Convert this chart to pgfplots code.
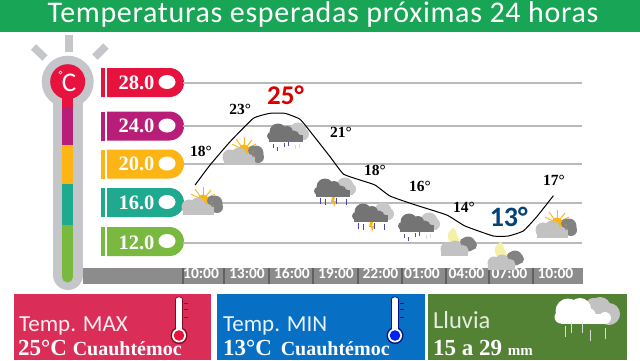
\documentclass[border=0pt]{standalone}
\usepackage{fontspec}
\usepackage{pgfplots}
\pgfplotsset{compat=1.18}
\setmainfont{Carlito}
\newfontfamily\sfb{Liberation Serif}
\newfontfamily\titlef{Carlito}[LetterSpace=2.3]
\newcommand{\fs}[1]{\fontsize{#1}{#1}\selectfont}
\definecolor{band}{HTML}{18A555}
\definecolor{cred}{HTML}{E8123F}
\definecolor{cpur}{HTML}{B81E78}
\definecolor{cyel}{HTML}{FDB515}
\definecolor{ctea}{HTML}{1FA98E}
\definecolor{cgrn}{HTML}{7AB93F}
\definecolor{tube}{HTML}{C4C6CA}
\definecolor{pmax}{HTML}{DA2E58}
\definecolor{pmin}{HTML}{0770C4}
\definecolor{prain}{HTML}{548235}
\definecolor{lcl}{HTML}{C2C2C2}
\definecolor{dcl}{HTML}{747474}
\definecolor{moonc}{HTML}{F4F1A6}
\newcommand{\pill}[2]{% y centre, colour
  \fill[#2] (101,#1-14.5) rectangle (104.5,#1+14.5);
  \fill[#2] (107,#1-14.5) -- (169.5,#1-14.5) arc[start angle=90,end angle=-90,radius=14.5pt] -- (107,#1+14.5) -- cycle;
  \fill[white] (167,#1-0.5) ellipse[x radius=8.5pt,y radius=7pt];
}
\newcommand{\sunicon}[2]{\begin{scope}[shift={(#1,#2)}]
  \foreach \a/\b in {13/2,21/0,29/3,9/7,33/7}{\draw[cyel,line width=0.9pt] (21,13)--(\a,\b);}
  \fill[cyel] (21,13) circle (5.6);
  \fill[dcl!90] (33,16) circle (7.5);\fill[dcl!90] (30,13.5) circle (5);\fill[dcl!90] (35,20) circle (6);
  \fill[lcl] (7,20) circle (7.5);\fill[lcl] (16,18) circle (7.5);\fill[lcl] (25,22) circle (5.5);
  \fill[lcl] (1,20) rectangle (32,28);
  \fill[cyel] (30,15) circle (0.7);\fill[cyel] (31,19) circle (0.7);
\end{scope}}
\newcommand{\rainbase}{
  \fill[lcl!90] (30,8) circle (8.5);\fill[lcl!90] (35,11) circle (6);\fill[lcl!90] (22,10) circle (6);\fill[lcl!90] (24,12) rectangle (38,17);
  \fill[dcl] (10,9) circle (8.5);\fill[dcl] (19,9) circle (6);\fill[dcl] (26,13) circle (5.5);\fill[dcl] (31,15) circle (3.7);\fill[dcl] (3,13) circle (4);\fill[dcl] (0.5,12) rectangle (35,18.5);
}
\newcommand{\rainicon}[2]{\begin{scope}[shift={(#1,#2)}]\rainbase
  \foreach \x/\y in {5/25,9/28,16/24,20/23}{\draw[dcl!70!blue,line width=0.8pt] (\x,\y-4)--(\x,\y);}
  \foreach \x/\y in {27/26,31/25}{\draw[lcl!60,line width=0.8pt] (\x,\y-4)--(\x,\y);}
\end{scope}}
\newcommand{\stormicon}[2]{\begin{scope}[shift={(#1,#2)}]\rainbase
  \foreach \x/\y in {5/26,10/27,21/26,31/27}{\draw[dcl!60!blue,line width=0.8pt] (\x,\y-6)--(\x,\y);}
  \fill[cyel] (17,19) -- (20,19) -- (19,23) -- (21,23) -- (19,29) -- (18,24) -- (16,24) -- cycle;
\end{scope}}
\newcommand{\moonicon}[2]{\begin{scope}[shift={(#1,#2)}]
  \fill[moonc,draw=none] plot[smooth cycle] coordinates {(14,0) (8,6) (9,13) (15,18) (27,19) (31,17) (22,14) (18,9)};
  \fill[dcl!90] (28,16) circle (7.5);\fill[dcl!90] (32,17) circle (5);\fill[dcl!90] (24,14) circle (4);
  \fill[lcl] (7,21) circle (6.5);\fill[lcl] (15,19.5) circle (7);\fill[lcl] (23,22.5) circle (5.5);\fill[lcl] (1,22) rectangle (28,28);
\end{scope}}
\newcommand{\thermo}[2]{% x, bulb colour
  \draw[#2!55!black,line width=0.8pt,fill=white,rounded corners=2.5pt] (#1-3.5,328) -- (#1-3.5,297) -- (#1+3.5,297) -- (#1+3.5,328);
  \fill[#2!55!black] (#1,335.5) circle (8.5);
  \fill[white] (#1-3,326) rectangle (#1+3,332);
  \fill[white] (#1,335.5) circle (7);
  \fill[#2] (#1,335.5) circle (5.3);
  \foreach \y in {303,309,317}{\draw[#2!55!black,line width=0.6pt] (#1+5,\y)--(#1+9,\y);}
}
\begin{document}
\begin{tikzpicture}
\begin{scope}[x=1pt,y=-1pt]
\useasboundingbox (0,0) rectangle (640,360);
\fill[white] (0,0) rectangle (640,360);
% title band
\fill[band] (0,0) rectangle (640,32);
\node[text=white,anchor=center] at (323,14) {\fs{30}\titlef Temperaturas esperadas próximas 24 horas};
% thermometer
\fill[tube] (53,80) rectangle (83,275);
\fill[tube] (68,275) circle (15);
\fill[tube] (67.7,81.7) circle (26);
\fill[tube] (65,35) rectangle (73,52);
\draw[tube,line width=7.5pt] (33.5,47)--(45,58);
\draw[tube,line width=7.5pt] (106,46)--(95,57);
\fill[cred] (67.7,81.7) circle (17.5);
\fill[cgrn] (62,225) rectangle (73,277);
\fill[cgrn] (67.5,277) circle (5.5);
\fill[ctea] (62,183.5) rectangle (73,225);
\fill[cyel] (62,145) rectangle (73,183.5);
\fill[cpur] (62,107) rectangle (73,145);
\fill[cred] (62,90) rectangle (73,107);
\node[text=white,inner sep=0pt] at (69,83) {\fs{27}C};
\fill[white] (60.5,72.5) circle (1.8);
\fill[cred] (60.5,72.5) circle (0.8);
% pills
\pill{82.5}{cred}
\pill{126}{cpur}
\pill{164}{cyel}
\pill{202.5}{ctea}
\pill{241.5}{cgrn}
% axis strip
\fill[black!45] (83,268) rectangle (583,284);
\foreach \x in {224,269,313,358,402,446,489,533}{\fill[black!62] (\x-1.2,268) rectangle (\x+1.2,284);}
\fill[black!62] (182,268) rectangle (184,284);
\end{scope}
\begin{axis}[
  at={(183pt,-284pt)},anchor=south west,
  scale only axis,width=399pt,height=214pt,
  xmin=-1.214,xmax=25.69,ymin=7.9,ymax=29.3,
  clip=false,
  axis line style={draw=none},
  tick style={draw=none},
  xtick={0,3.1,6.13,9.1,12.1,14.9,17.9,20.8,23.9},
  xticklabels={10:00,13:00,16:00,19:00,22:00,01:00,04:00,07:00,10:00},
  xticklabel style={text=white,font=\fs{15.5}\bfseries,yshift=19.5pt},
  ytick={12,16,19.9,23.7,28},
  yticklabels={12.0,16.0,20.0,24.0,28.0},
  yticklabel style={text=white,font=\fs{20.5}\sfb\bfseries,xshift=-25pt},
  ymajorgrids,
  grid style={black!27,line width=1.3pt},
  /pgf/number format/assume math mode=true,
]
\addplot[black,line width=1pt,smooth,tension=0.25,mark=none] coordinates {
(-0.40,17.8)(0.61,19.8)(1.96,22.13)(3.53,24.47)(4.65,24.97)(5.66,24.97)(6.68,24.37)(7.55,22.8)(8.70,20.63)(9.60,18.9)(10.72,18.3)(11.73,17.8)(12.74,16.7)(14.32,15.87)(16.57,14.8)(17.80,13.7)(19.71,12.7)(20.72,12.7)(21.73,13.2)(22.64,14.63)(23.76,16.73)};
\node[font=\fs{15.5}\sfb\bfseries] at (axis cs:0,21.2) {18°};
\node[font=\fs{15.5}\sfb\bfseries] at (axis cs:2.65,25.4) {23°};
\node[font=\fs{15.5}\sfb\bfseries] at (axis cs:9.44,23.1) {21°};
\node[font=\fs{15.5}\sfb\bfseries] at (axis cs:11.73,19.3) {18°};
\node[font=\fs{15.5}\sfb\bfseries] at (axis cs:14.77,17.7) {16°};
\node[font=\fs{15.5}\sfb\bfseries] at (axis cs:17.73,15.6) {14°};
\node[font=\fs{15.5}\sfb\bfseries] at (axis cs:23.8,18.3) {17°};
\node[font=\fs{27}\bfseries,text=red!85!black] at (axis cs:5.7,26.8) {25°};
\node[font=\fs{28}\bfseries,text=pmin!60!black] at (axis cs:20.75,14.6) {13°};
\end{axis}
\begin{scope}[x=1pt,y=-1pt]
\sunicon{182}{187}
\sunicon{223}{137}
\rainicon{268}{123}
\stormicon{315}{178}
\stormicon{353}{203}
\rainicon{399}{213}
\moonicon{440}{228}
\moonicon{487}{242}
\sunicon{536}{210}
% panels
\fill[pmax] (14,294) rectangle (211,360);
\fill[pmin] (217,294) rectangle (425,360);
\fill[prain] (428,294) rectangle (627,360);
\thermo{179}{cred}
\thermo{395}{blue!70!pmin}
% rain icon
\begin{scope}[shift={(555,297)}]
  \fill[lcl] (45,11) circle (11);\fill[lcl] (54,17) circle (11);\fill[lcl] (38,8) circle (7);\fill[lcl] (36,10) rectangle (58,27);
  \fill[white] (13,14) circle (12.5);\fill[white] (25,12) circle (11);\fill[white] (33,19) circle (8);\fill[white] (50,21) circle (6);\fill[white] (6,17) rectangle (50,27);\fill[white] (6,20) circle (6.5);
  \foreach \x/\y in {10/40,16/36,27/36,35/44,50/42}{\draw[white!75!prain,line width=0.8pt] (\x,\y-11)--(\x,\y);}
\end{scope}
\node[anchor=base west,text=white!92!pmax,inner sep=0] at (19,331) {\fs{23}Temp. MAX};
\node[anchor=base west,text=white,inner sep=0] at (18,355.5) {\fs{23}\sfb\bfseries 25°C \fs{20}Cuauhtémoc};
\node[anchor=base west,text=white!92!pmin,inner sep=0] at (223,331) {\fs{23}Temp. MIN};
\node[anchor=base west,text=white,inner sep=0] at (223,355.5) {\fs{23}\sfb\bfseries 13°C \hspace{3pt}\fs{20}Cuauhtémoc};
\node[anchor=base west,text=white!85!prain,inner sep=0] at (433,328) {\fs{24.5}Lluvia};
\node[anchor=base west,text=white,inner sep=0] at (433,355.5) {\fs{23}\sfb\bfseries 15 a 29 \fs{15}mm};
\end{scope}
\end{tikzpicture}
\end{document}
